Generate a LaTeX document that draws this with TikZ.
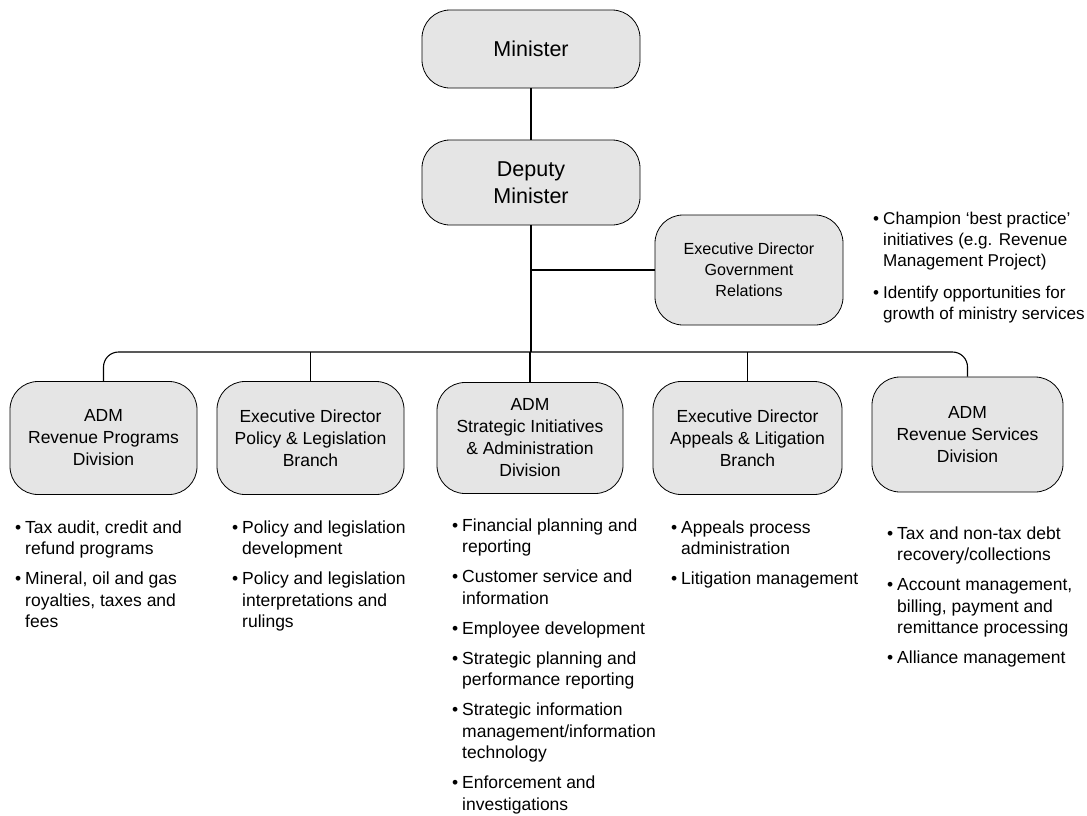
\documentclass[tikz,border=0pt]{standalone}
\usepackage{fontspec}
\setmainfont{Liberation Sans}
\definecolor{boxgray}{RGB}{229,229,229}
\newcommand{\bul}{\llap{•\hspace{4pt}}}
\tikzset{
  orgbox/.style={draw=black, line width=0.8pt, fill=boxgray, rounded corners=28pt,
    inner sep=0pt, align=center, font=\fontsize{17.5}{22}\selectfont},
  link/.style={line width=1.1pt, draw=black},
  blist/.style={anchor=north west, inner sep=0pt, align=left,
    font=\fontsize{17.5}{21.5}\selectfont},
}
\begin{document}
\begin{tikzpicture}[x=1pt,y=1pt]
\useasboundingbox (0,0) rectangle (1087,-815);
% top
\node[orgbox, minimum width=218, minimum height=78, font=\fontsize{21.5}{27}\selectfont] (minister) at (531,-49) {Minister};
\node[orgbox, minimum width=218, minimum height=85, font=\fontsize{21.5}{27}\selectfont] (deputy) at (531,-182.5) {Deputy\\Minister};
\node[orgbox, minimum width=188, minimum height=110, font=\fontsize{16.1}{21}\selectfont] (gov) at (749,-270) {Executive Director\\Government\\Relations};
% divisions
\node[orgbox, minimum width=187, minimum height=113] (b1) at (103.5,-438) {ADM\\Revenue Programs\\Division};
\node[orgbox, minimum width=187, minimum height=113] (b2) at (310.5,-438) {Executive Director\\Policy \& Legislation\\Branch};
\node[orgbox, minimum width=186, minimum height=111] (b3) at (530,-438) {ADM\\Strategic Initiatives\\\& Administration\\Division};
\node[orgbox, minimum width=189, minimum height=113] (b4) at (747.5,-438) {Executive Director\\Appeals \& Litigation\\Branch};
\node[orgbox, minimum width=191, minimum height=115] (b5) at (967.5,-434.5) {ADM\\Revenue Services\\Division};
% bus
\coordinate (bus) at (530,-352);
\draw[link] (minister) -- (deputy);
\draw[link] (deputy.south) -- (deputy.south |- bus);
\draw[link] (deputy.south |- gov.west) -- (gov.west);
\draw[link, rounded corners=15pt] (b1.north) -- (b1.north |- bus) -- (b5.north |- bus) -- (b5.north);
\draw[link] (b2.north |- bus) -- (b2.north);
\draw[link] (b3.north |- bus) -- (b3.north);
\draw[link] (b4.north |- bus) -- (b4.north);
% bullet lists
\node[blist, font=\fontsize{17.1}{21}\selectfont] (gl) at (883,-211.5) {\bul Champion ‘best practice’\\initiatives (e.g. Revenue\\Management Project)\\[11pt]\bul Identify opportunities for\\growth of ministry services};
\node[blist] (l1) at (25,-520.5) {\bul Tax audit, credit and\\refund programs\\[8.5pt]\bul Mineral, oil and gas\\royalties, taxes and\\fees};
\node[blist] (l2) at (242,-520.5) {\bul Policy and legislation\\development\\[8.5pt]\bul Policy and legislation\\interpretations and\\rulings};
\node[blist] (l3) at (462,-518.5) {\bul Financial planning and\\reporting\\[8.5pt]\bul Customer service and\\information\\[8.5pt]\bul Employee development\\[8.5pt]\bul Strategic planning and\\performance reporting\\[8.5pt]\bul Strategic information\\management/information\\technology\\[8.5pt]\bul Enforcement and\\investigations};
\node[blist] (l4) at (681,-520.5) {\bul Appeals process\\administration\\[8.5pt]\bul Litigation management};
\node[blist] (l5) at (897,-526.5) {\bul Tax and non-tax debt\\recovery/collections\\[8.5pt]\bul Account management,\\billing, payment and\\remittance processing\\[8.5pt]\bul Alliance management};
\end{tikzpicture}
\end{document}
